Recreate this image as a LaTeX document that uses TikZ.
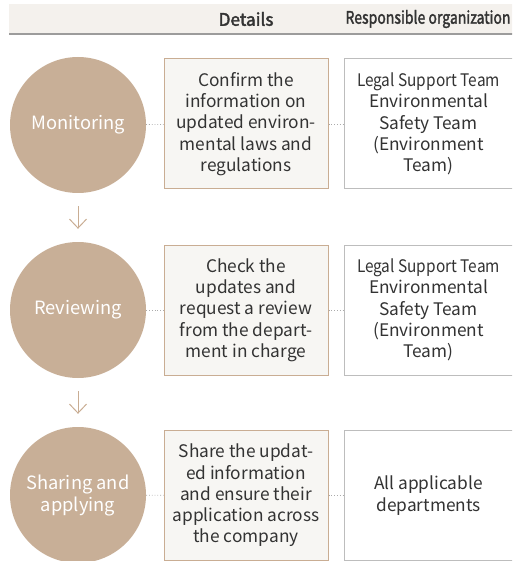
\documentclass[tikz,border=0pt]{standalone}
\usepackage{fontspec}
\setmainfont{Noto Sans CJK KR}
\newfontfamily\headfont[FakeBold=2.2]{Noto Sans CJK KR}
\usetikzlibrary{arrows.meta}
\definecolor{tan}{HTML}{C8AF97}
\definecolor{tanline}{HTML}{C9AD93}
\definecolor{paper}{HTML}{F7F6F3}
\definecolor{headbg}{HTML}{F4F1ED}
\definecolor{headline}{HTML}{9C9C9C}
\definecolor{orgline}{HTML}{BDBDBD}
\definecolor{ink}{HTML}{333333}
\definecolor{dotgray}{HTML}{ABABAB}
% squeeze a text to a given width, keeping its height
\newcommand{\squeezeto}[2]{\resizebox{#1}{\height}{#2}}
\tikzset{
  stage/.style={circle, fill=tan, draw=none, minimum size=136pt, inner sep=0pt,
    text=white, align=center, font=\fontsize{18.3}{22}\selectfont},
  detail/.style={rectangle, fill=paper, draw=tanline, line width=1pt,
    minimum width=164pt, minimum height=130pt, inner sep=0pt,
    text=ink, align=center, font=\fontsize{17.3}{21.3}\selectfont},
  org/.style={rectangle, fill=white, draw=orgline, line width=1pt,
    minimum width=169pt, minimum height=130pt, inner sep=0pt,
    text=ink, align=center, font=\fontsize{17.3}{21.3}\selectfont},
  link/.style={draw=dotgray, line width=0.8pt, dash pattern=on 0.8pt off 2pt},
  flow/.style={draw=tanline, line width=1pt, shorten <=13pt, shorten >=13pt,
    -{Straight Barb[length=9pt,width=17pt]}},
  header/.style={text=ink, font=\headfont\fontsize{17.3}{20}\selectfont}
}
\begin{document}
\begin{tikzpicture}[x=1pt,y=-1pt]
  \useasboundingbox (0,0) rectangle (512,561);
  \begin{scope}
  \clip (0,0) rectangle (512,561);
  % header band
  \fill[headbg] (9,4) rectangle (513,34);
  \draw[headline, line width=1.5pt] (9,34) -- (513,34);
  \node[header] (hd) at (246,19) {Details};
  \node[header] (ho) at (428,19) {\squeezeto{165pt}{Responsible organization}};

  % stage 1
  \node[stage] (c1) at (78,125) {Monitoring};
  \node[detail] (d1) at (246,124) {Confirm the\\information on\\updated environ-\\mental laws and\\regulations};
  \node[org] (o1) at (428.5,124) {\squeezeto{143pt}{Legal Support Team}\\Environmental\\Safety Team\\(Environment\\Team)};

  % stage 2
  \node[stage] (c2) at (78,310) {Reviewing};
  \node[detail] (d2) at (246,310) {Check the\\updates and\\request a review\\from the depart-\\ment in charge};
  \node[org] (o2) at (428.5,310) {\squeezeto{143pt}{Legal Support Team}\\Environmental\\Safety Team\\(Environment\\Team)};

  % stage 3
  \node[stage] (c3) at (78,495) {Sharing and\\applying};
  \node[detail] (d3) at (246,495.5) {Share the updat-\\ed information\\and ensure their\\application across\\the company};
  \node[org] (o3) at (428.5,495.5) {All applicable\\departments};

  % dotted links between columns
  \foreach \i in {1,2,3} {
    \draw[link] (c\i) -- (d\i);
    \draw[link] (d\i) -- (o\i);
  }

  % flow arrows between stages
  \draw[flow] (c1) -- (c2);
  \draw[flow] (c2) -- (c3);
  \end{scope}
\end{tikzpicture}
\end{document}
